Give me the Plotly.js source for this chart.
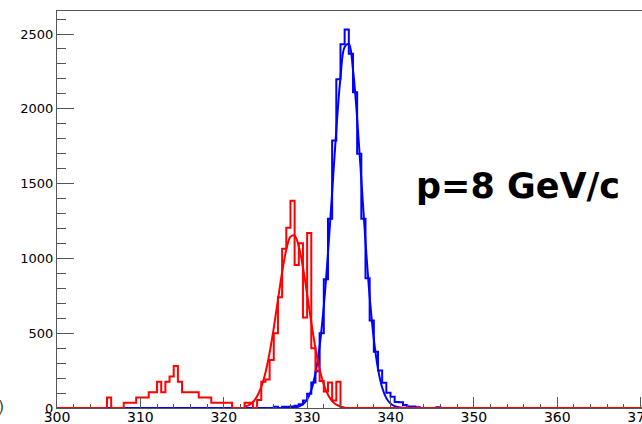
<!DOCTYPE html>
<html>
<head>
<meta charset="utf-8">
<script src="https://cdn.plot.ly/plotly-3.0.1.min.js"></script>
<style>
  html, body { margin: 0; padding: 0; overflow: hidden; background: #fff; width: 642px; height: 424px; }
  #plot { width: 724px; height: 424px; }
</style>
</head>
<body>
<div id="plot"></div>
<script>
// Histogram binning (mass axis, bins of 0.5)
const binWidth = 0.5;
const histLow = 300;
const histHigh = 380;

// Red histogram: counts per bin starting at redStart
const redStart = 306.0;
const redCounts = [
  70, 0, 0, 0,                 // 306.0 - 307.5
  35, 35, 35, 70, 70, 70,      // 308.0 - 310.5
  105, 105, 176, 105, 176, 211, 281, 176, // 311.0 - 314.5
  105, 105, 105, 105,          // 315.0 - 316.5
  70, 70, 70,                  // 317.0 - 318.0
  35, 35, 35, 35, 35,          // 318.5 - 320.5
  0, 0, 0,                     // 321.0 - 322.0
  35, 35, 0, 53,               // 322.5 - 324.0
  176, 190, 321, 499, 740, 1065, 1205, 1386, // 324.5 - 328.0
  956, 1101, 605, 1170, 400, 250, 180, 110,   // 328.5 - 332.0
  170, 50, 176, 0              // 332.5 - 334.0
];

// Blue histogram: counts per bin starting at blueStart
const blueStart = 326.0;
const blueCounts = [
  8, 0, 8, 8, 10, 15, 25, 50, 95, 170, 245, 499, 860,      // 326.0 - 332.0
  1265, 1789, 2197, 2431, 2531, 2369, 2110, 1700, 1265,     // 332.5 - 336.5
  867, 585, 376, 250, 168, 102, 76, 40, 38, 20, 10, 10, 5,  // 337.0 - 343.0
  0, 0, 0, 0, 5                                             // 343.5 - 345.5
];

// Gaussian fit curves, sampled every 0.5
const redFitX = [322.5, 323, 323.5, 324, 324.5, 325, 325.5, 326, 326.5, 327, 327.5, 328, 328.5,
                 329, 329.5, 330, 330.5, 331, 331.5, 332, 332.5, 333, 333.5, 334, 334.5];
const redFitY = [8, 19, 40, 78, 141, 236, 369, 535, 723, 906, 1057, 1145, 1153,
                 1080, 940, 761, 572, 400, 260, 157, 88, 46, 22, 10, 4];

const blueFitX = [327, 327.5, 328, 328.5, 329, 329.5, 330, 330.5, 331, 331.5, 332, 332.5, 333,
                  333.5, 334, 334.5, 335, 335.5, 336, 336.5, 337, 337.5, 338, 338.5, 339,
                  339.5, 340, 340.5, 341, 341.5, 342, 342.5, 343];
const blueFitY = [0, 0, 1, 4, 10, 25, 57, 120, 232, 414, 681, 1033, 1443,
                  1859, 2207, 2414, 2434, 2262, 1936, 1528, 1112, 745, 460, 262, 137,
                  66, 30, 12, 5, 2, 1, 0, 0];

const momentumLabel = 'p=8 GeV/c';
const edgeGlyph = ')';

// Expand a partial count list into full-range step coordinates
function stepLine(start, counts) {
  const n = Math.round((histHigh - histLow) / binWidth);
  const full = new Array(n).fill(0);
  const offset = Math.round((start - histLow) / binWidth);
  counts.forEach((c, i) => { full[offset + i] = c; });
  const x = [], y = [];
  for (let i = 0; i < n; i++) { x.push(histLow + i * binWidth); y.push(full[i]); }
  x.push(histHigh); y.push(full[n - 1]);
  return { x, y };
}

const blueHist = stepLine(blueStart, blueCounts);
const redHist = stepLine(redStart, redCounts);

const traces = [
  { x: blueHist.x, y: blueHist.y, type: 'scatter', mode: 'lines',
    line: { color: '#0000ff', width: 2, shape: 'hv' }, hoverinfo: 'skip' },
  { x: blueFitX, y: blueFitY, type: 'scatter', mode: 'lines',
    line: { color: '#0000ff', width: 2, shape: 'spline' }, hoverinfo: 'skip' },
  { x: redHist.x, y: redHist.y, type: 'scatter', mode: 'lines',
    line: { color: '#ff0000', width: 2, shape: 'hv' }, hoverinfo: 'skip' },
  { x: redFitX, y: redFitY, type: 'scatter', mode: 'lines',
    line: { color: '#ff0000', width: 2, shape: 'spline' }, hoverinfo: 'skip' }
];

const axisColor = '#555';

const layout = {
  width: 724,
  height: 424,
  margin: { l: 57, r: 0, t: 11, b: 16 },
  paper_bgcolor: '#fff',
  plot_bgcolor: '#fff',
  showlegend: false,
  xaxis: {
    range: [300, 380],
    tick0: 300, dtick: 10,
    ticks: 'inside', ticklen: 11, tickwidth: 1, tickcolor: axisColor,
    minor: { dtick: 2, ticks: 'inside', ticklen: 4, tickcolor: axisColor, showgrid: false },
    showline: true, linecolor: axisColor, linewidth: 1, mirror: true,
    showgrid: false, zeroline: false,
    ticklabelstandoff: -4,
    tickfont: { family: 'DejaVu Sans', size: 14, color: '#000' }
  },
  yaxis: {
    range: [0, 2654],
    tick0: 0, dtick: 500,
    ticks: 'inside', ticklen: 17, tickwidth: 1, tickcolor: axisColor,
    minor: { dtick: 100, ticks: 'inside', ticklen: 9, tickcolor: axisColor, showgrid: false },
    showline: true, linecolor: axisColor, linewidth: 1, mirror: true,
    showgrid: false, zeroline: false,
    tickfont: { family: 'DejaVu Sans', size: 13, color: '#000' }
  },
  annotations: [{
    text: '<b>' + momentumLabel + '</b>',
    xref: 'paper', yref: 'paper', x: 0.691, y: 0.56,
    xanchor: 'center', yanchor: 'middle', showarrow: false,
    font: { family: 'DejaVu Sans', size: 35, color: '#000' }
  }, {
    text: edgeGlyph,
    xref: 'paper', yref: 'paper', x: -0.0915, y: 0.005,
    xanchor: 'left', yanchor: 'middle', showarrow: false,
    font: { family: 'DejaVu Sans', size: 16, color: '#444' }
  }]
};

Plotly.newPlot('plot', traces, layout, { staticPlot: true, displayModeBar: false });
</script>
</body>
</html>
